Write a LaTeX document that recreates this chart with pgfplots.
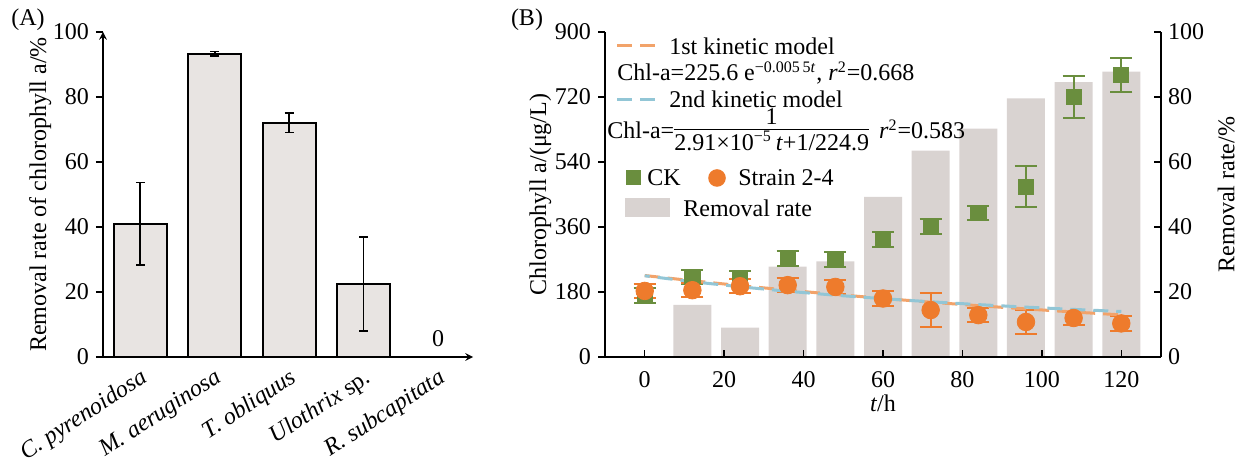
\documentclass[border=0pt]{standalone}
\usepackage{fontspec}
\setmainfont{Liberation Serif}
\usepackage{amsmath}
\usepackage{pgfplots}
\pgfplotsset{compat=1.18}

\definecolor{barA}{HTML}{E8E4E2}
\definecolor{barB}{HTML}{D9D3D1}
\definecolor{ckgreen}{HTML}{6A8E3E}
\definecolor{strain}{HTML}{EE7B2C}
\definecolor{mone}{HTML}{F2A36A}
\definecolor{mtwo}{HTML}{92C6D6}

\pgfplotsset{
  every axis/.append style={
    scale only axis,
    /pgf/number format/assume math mode=true,
    axis line style={-, line width=0.7pt},
    tick style={line width=0.7pt, black},
    major tick length=3.5pt,
  },
}

\begin{document}
\begin{tikzpicture}[font=\fontsize{12}{14}\selectfont]

% ---------------- panel A ----------------
\begin{axis}[
  name=A, at={(0,0)}, anchor=south west,
  width=185pt, height=162.5pt,
  xmin=-0.5, xmax=4.47, ymin=0, ymax=100,
  axis lines=left,
  tick align=outside,
  xtick={0,1,2,3,4},
  xticklabels={C. pyrenoidosa, M. aeruginosa, T. obliquus, {Ulothrix \upshape sp.}, R. subcapitata},
  xticklabel style={rotate=33, anchor=north east, font=\fontsize{12}{14}\selectfont\itshape, inner sep=1pt},
  x tick style={draw=none},
  ytick={0,20,...,100},
  ylabel={Removal rate of chlorophyll a/\%},
  ylabel style={yshift=-6pt},
]
\addplot[ybar, bar width=26.5pt, fill=barA, draw=black, line width=1pt,
  error bars/.cd, y dir=both, y explicit,
  error bar style={line width=0.9pt, black},
  error mark options={rotate=90, mark size=2.2pt, line width=0.9pt, black}]
  coordinates {(0,41) +- (0,12.7) (1,93.3) +- (0,0.7) (2,72.1) +- (0,3.0) (3,22.4) +- (0,14.4)};
\node[anchor=south] at (axis cs:4,1) {0};
\end{axis}
\node[anchor=center] at (-37.5pt,168.5pt) {(A)};

% ---------------- panel B: removal rate (right axis) ----------------
\begin{axis}[
  at={(251pt,0)}, anchor=south west,
  width=278pt, height=162.5pt,
  xmin=-10, xmax=130, ymin=0, ymax=100,
  axis x line=none, axis y line*=right,
  tick align=inside,
  ytick={0,20,...,100},
  ylabel={Removal rate/\%},
]
\addplot[ybar, bar width=19pt, fill=barB, draw=none]
  coordinates {(12,16) (24,9) (36,27.8) (48,29.4) (60,49.3) (72,63.5) (84,70.3) (96,79.6) (108,84.6) (120,87.8)};
\end{axis}

% ---------------- panel B: chlorophyll a (left axis) ----------------
\begin{axis}[
  at={(251pt,0)}, anchor=south west,
  width=278pt, height=162.5pt,
  xmin=-10, xmax=130, ymin=0, ymax=900,
  axis x line*=bottom, axis y line*=left,
  tick align=outside,
  xtick={0,20,...,120},
  x tick style={yshift=3.5pt},
  ytick={0,180,...,900},
  xlabel={\textit{t}/h},
  xlabel style={yshift=3pt},
  ylabel={Chlorophyll a/(μg/L)},
  ylabel style={yshift=-5pt},
]
% CK
\addplot[only marks, mark=square*, mark size=3.8pt, color=ckgreen,
  error bars/.cd, y dir=both, y explicit,
  error bar style={line width=1pt, ckgreen},
  error mark options={rotate=90, mark size=5.5pt, line width=1pt, ckgreen}]
  coordinates {(0,170) +- (0,20) (12,221) +- (0,20) (24,217) +- (0,20) (36,273) +- (0,20)
               (48,270) +- (0,20) (60,325) +- (0,20) (72,361) +- (0,20) (84,399) +- (0,20)
               (96,472) +- (0,56) (108,720) +- (0,59) (120,781) +- (0,48)};
% Strain 2-4
\addplot[only marks, mark=*, mark size=4.4pt, color=strain,
  error bars/.cd, y dir=both, y explicit,
  error bar style={line width=1pt, strain},
  error mark options={rotate=90, mark size=5.5pt, line width=1pt, strain}]
  coordinates {(0,183) +- (0,20) (12,185) +- (0,20) (24,196) +- (0,20) (36,199) +- (0,20)
               (48,194) +- (0,20) (60,162) +- (0,20) (72,130) +- (0,48) (84,116) +- (0,20)
               (96,97) +- (0,33) (108,108) +- (0,20) (120,93) +- (0,20)};
% 1st kinetic model
\addplot[mone, line width=1.5pt, dash pattern=on 7.5pt off 4pt]
  coordinates {(0,225.6) (12,211.2) (24,197.7) (36,185.1) (48,173.3) (60,162.2)
               (72,151.8) (84,142.1) (96,133.1) (108,124.6) (120,116.6)};
% 2nd kinetic model
\addplot[mtwo, line width=1.5pt, dash pattern=on 7.5pt off 4pt, dash phase=5pt]
  coordinates {(0,224.9) (12,208.5) (24,194.4) (36,182.0) (48,171.1) (60,161.5)
               (72,152.9) (84,145.1) (96,138.1) (108,131.8) (120,126.0)};
\end{axis}
\node[anchor=center] at (212pt,168.5pt) {(B)};

% legend of panel B
\begin{scope}[font=\fontsize{12}{14}\selectfont]
\draw[mone, line width=1.5pt, dash pattern=on 7.5pt off 4pt] (257pt,155.5pt) -- (276pt,155.5pt);
\node[anchor=west, inner sep=0pt] at (283pt,155.5pt) {1st kinetic model};
\node[anchor=west, inner sep=0pt] at (257pt,142pt)
  {Chl-a=225.6 e\textsuperscript{−0.005\,5\textit{t}}, \textit{r}\textsuperscript{2}=0.668};
\draw[mtwo, line width=1.5pt, dash pattern=on 7.5pt off 4pt] (257pt,128.5pt) -- (276pt,128.5pt);
\node[anchor=west, inner sep=0pt] at (283pt,129pt) {2nd kinetic model};
\node[anchor=west, inner sep=0pt] at (252pt,112pt)
  {Chl-a=$\vcenter{\hbox{\renewcommand{\arraystretch}{0.8}\begin{tabular}{@{}c@{}}1\\[-1.5pt]\hline\rule{0pt}{10.5pt}2.91×10\textsuperscript{−5}\,\textit{t}+1/224.9\end{tabular}}}$\hspace{5pt}\textit{r}\textsuperscript{2}=0.583};
\fill[ckgreen] (261.5pt,85.75pt) rectangle (269pt,93.25pt);
\node[anchor=west, inner sep=0pt] at (272pt,89.5pt) {CK};
\fill[strain] (307pt,89.5pt) circle (4.4pt);
\node[anchor=west, inner sep=0pt] at (317.5pt,89.5pt) {Strain 2-4};
\fill[barB] (261pt,70pt) rectangle (283.5pt,79.5pt);
\node[anchor=west, inner sep=0pt] at (290pt,74.5pt) {Removal rate};
\end{scope}

\path (-51.5pt,-53.5pt) rectangle (570.5pt,178.5pt);
\end{tikzpicture}
\end{document}
